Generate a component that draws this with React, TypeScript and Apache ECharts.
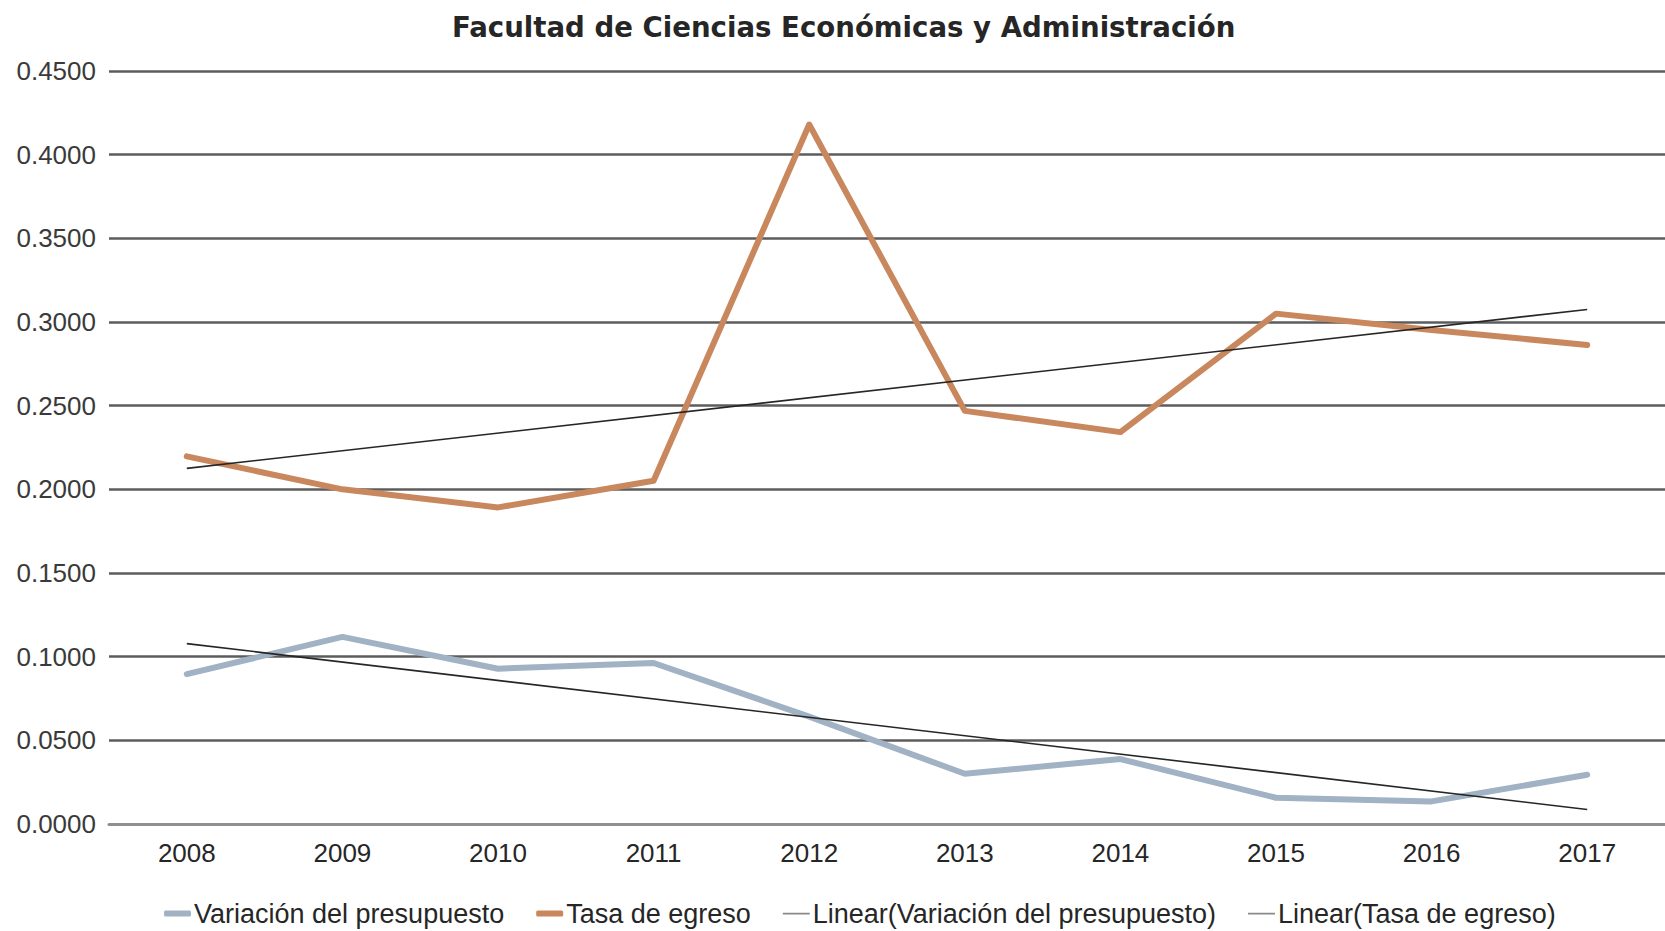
import React, { useEffect, useRef } from "react";
import * as echarts from "echarts";

const titleText = "Facultad de Ciencias Económicas y Administración";
const years = ["2008", "2009", "2010", "2011", "2012", "2013", "2014", "2015", "2016", "2017"];
const variacionPresupuesto = [0.0896, 0.1118, 0.0928, 0.0962, 0.0642, 0.03, 0.0388, 0.0157, 0.0135, 0.0294];
const tasaEgreso = [0.2197, 0.2, 0.1892, 0.2051, 0.418, 0.2469, 0.2342, 0.305, 0.2952, 0.2863];
// trend line end points (2008, 2017)
const trendVariacion = [0.1078, 0.0087];
const trendTasa = [0.2125, 0.3075];
const seriesNames = [
  "Variación del presupuesto",
  "Tasa de egreso",
  "Linear(Variación del presupuesto)",
  "Linear(Tasa de egreso)",
];

const FONT = "'Liberation Sans', Arial, Helvetica, sans-serif";
const TITLE_FONT = "'DejaVu Sans', 'Liberation Sans', Arial, sans-serif";
const thinIcon = "path://M0,0h0.01v0.01h-0.01z M0,2.2h27v1.8h-27z M26.99,6h0.01v0.01h-0.01z";

export default function App() {
  const ref = useRef<HTMLDivElement>(null);
  useEffect(() => {
    if (!ref.current) return;
    const chart = echarts.init(ref.current, null, { renderer: "svg" });
    const blue = "#a0b2c4";
    const orange = "#c8875d";
    const trend = "#262626";
    chart.setOption({
      animation: false,
      backgroundColor: "#ffffff",
      title: {
        text: titleText,
        left: 452,
        top: 13,
        padding: 0,
        textStyle: { fontFamily: TITLE_FONT, fontSize: 27.6, fontWeight: "bold", color: "#262626" },
      },
      legend: {
        left: 164,
        top: 900,
        padding: 0,
        itemGap: 32,
        itemWidth: 27,
        itemHeight: 6,
        textStyle: { fontFamily: FONT, fontSize: 27, color: "#262626", padding: [0, 0, 0, -2] },
        data: [
          { name: seriesNames[0], icon: "roundRect", itemStyle: { color: blue } },
          { name: seriesNames[1], icon: "roundRect", itemStyle: { color: orange } },
          { name: seriesNames[2], icon: thinIcon, itemStyle: { color: "#8a8a8a" } },
          { name: seriesNames[3], icon: thinIcon, itemStyle: { color: "#8a8a8a" } },
        ],
      },
      grid: { left: 109, top: 71, width: 1564, height: 753, containLabel: false },
      xAxis: {
        type: "category",
        data: years,
        boundaryGap: true,
        axisLine: { show: true, lineStyle: { color: "#8f8f8f", width: 3 } },
        axisTick: { show: false },
        axisLabel: { fontFamily: FONT, fontSize: 26, color: "#262626", margin: 16 },
        splitLine: { show: false },
      },
      yAxis: {
        type: "value",
        min: 0,
        max: 0.45,
        interval: 0.05,
        axisLine: { show: false },
        axisTick: { show: false },
        axisLabel: {
          fontFamily: FONT,
          fontSize: 26,
          color: "#3a3a3a",
          margin: 13,
          formatter: (v: number) => v.toFixed(4),
        },
        splitLine: { show: true, lineStyle: { color: "#5c5c5c", width: 2.5 } },
      },
      series: [
        {
          name: seriesNames[0],
          type: "line",
          data: variacionPresupuesto,
          symbol: "none",
          lineStyle: { color: blue, width: 6, cap: "round", join: "round" },
          itemStyle: { color: blue },
          z: 2,
        },
        {
          name: seriesNames[1],
          type: "line",
          data: tasaEgreso,
          symbol: "none",
          lineStyle: { color: orange, width: 6, cap: "round", join: "round" },
          itemStyle: { color: orange },
          z: 2,
        },
        {
          name: seriesNames[2],
          type: "line",
          data: [
            [years[0], trendVariacion[0]],
            [years[years.length - 1], trendVariacion[1]],
          ],
          symbol: "none",
          lineStyle: { color: trend, width: 1.6 },
          itemStyle: { color: "#8a8a8a" },
          z: 3,
        },
        {
          name: seriesNames[3],
          type: "line",
          data: [
            [years[0], trendTasa[0]],
            [years[years.length - 1], trendTasa[1]],
          ],
          symbol: "none",
          lineStyle: { color: trend, width: 1.6 },
          itemStyle: { color: "#8a8a8a" },
          z: 3,
        },
      ],
    });
    return () => chart.dispose();
  }, []);
  return (
    <div
      ref={ref}
      style={{ position: "fixed", left: 0, top: 0, width: 1665, height: 931, background: "#fff" }}
    />
  );
}
